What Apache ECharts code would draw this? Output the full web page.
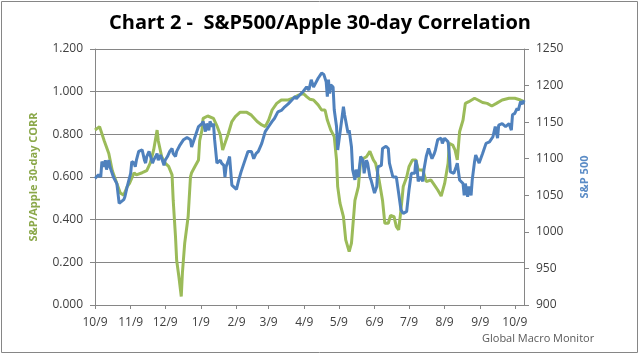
<!DOCTYPE html>
<html>
<head>
<meta charset="utf-8">
<script src="https://cdn.jsdelivr.net/npm/echarts@6/dist/echarts.min.js"></script>
<style>
html,body{margin:0;padding:0;background:#fff;}
#c{width:640px;height:355px;}
</style>
</head>
<body>
<div id="c"></div>
<script>
// ---- data ----
const startDate = '2009-10-09';
const lastDay = 373; // day offset of right edge of plot
const tickDates = ['2009-10-09','2009-11-09','2009-12-09','2010-01-09','2010-02-09','2010-03-09','2010-04-09','2010-05-09','2010-06-09','2010-07-09','2010-08-09','2010-09-09','2010-10-09'];
const tickLabels = ['10/9','11/9','12/9','1/9','2/9','3/9','4/9','5/9','6/9','7/9','8/9','9/9','10/9'];
const leftTicks = [0, 0.2, 0.4, 0.6, 0.8, 1.0, 1.2];
const rightTicks = [900, 950, 1000, 1050, 1100, 1150, 1200, 1250];

// S&P/Apple 30-day correlation (day offsets from start, values)
const corrDays = [0,4,8,12,15,19,22,25,28,30,34,36,41,45,48,51,54,55,58,61,64,67,68,70,71,73,75,76,78,81,83,84,87,90,91,93,94,98,103,106,109,111,113,116,119,122,126,132,136,141,145,148,151,154,158,162,168,172,177,181,184,187,190,194,197,200,202,205,208,210,211,213,216,218,221,223,226,229,231,236,239,242,244,247,250,252,255,257,260,262,264,266,268,271,273,276,279,281,285,288,292,295,298,301,304,307,308,311,313,315,317,320,322,325,330,333,337,341,345,349,354,360,365,370,373];
const corrValues = [0.820,0.836,0.770,0.710,0.630,0.570,0.525,0.515,0.555,0.570,0.620,0.610,0.620,0.630,0.665,0.727,0.820,0.770,0.695,0.665,0.650,0.610,0.490,0.320,0.210,0.130,0.040,0.150,0.290,0.415,0.600,0.620,0.650,0.680,0.770,0.820,0.875,0.886,0.875,0.840,0.797,0.727,0.758,0.805,0.860,0.883,0.903,0.903,0.890,0.860,0.844,0.836,0.867,0.914,0.945,0.961,0.961,0.969,0.984,0.992,0.977,0.964,0.961,0.938,0.914,0.914,0.867,0.820,0.789,0.680,0.555,0.477,0.414,0.305,0.250,0.290,0.490,0.555,0.680,0.695,0.720,0.680,0.664,0.586,0.490,0.383,0.383,0.420,0.414,0.367,0.352,0.445,0.555,0.600,0.648,0.680,0.680,0.633,0.633,0.578,0.586,0.563,0.539,0.511,0.570,0.664,0.758,0.750,0.727,0.680,0.812,0.867,0.945,0.953,0.969,0.961,0.949,0.945,0.933,0.945,0.961,0.969,0.969,0.961,0.953];

// S&P 500 index level
const spxDays = [0,3,5,6,8,9,10,12,13,16,19,21,22,25,26,28,31,32,34,35,36,38,41,43,44,45,47,48,50,51,54,55,57,58,60,61,63,65,67,68,70,71,74,77,80,83,84,87,90,93,94,96,97,99,100,102,103,104,106,109,110,112,113,114,116,117,119,120,123,125,127,130,133,136,138,140,142,145,148,151,154,156,159,162,165,168,171,174,175,178,181,184,186,188,190,191,194,197,199,201,202,203,204,205,207,208,210,211,213,216,217,220,221,223,224,226,227,229,231,233,234,236,237,239,240,243,245,246,249,250,253,255,256,259,262,264,266,268,271,272,273,275,278,279,280,281,283,285,286,288,290,293,295,296,298,301,302,304,307,308,309,312,314,315,317,320,321,322,324,325,327,328,330,331,334,337,340,343,346,348,350,351,354,357,360,362,363,365,367,368,370,372,373];
const spxValues = [1073,1078,1075,1096,1089,1098,1085,1098,1089,1075,1066,1039,1037,1044,1048,1062,1080,1096,1094,1089,1098,1110,1112,1098,1094,1103,1110,1108,1094,1098,1107,1098,1105,1103,1091,1098,1103,1110,1114,1107,1103,1110,1119,1126,1129,1126,1116,1130,1144,1148,1151,1137,1148,1139,1151,1144,1148,1126,1094,1098,1094,1091,1075,1089,1098,1103,1064,1062,1058,1071,1082,1096,1110,1110,1100,1107,1110,1121,1137,1144,1151,1155,1164,1166,1171,1175,1180,1185,1182,1187,1192,1198,1194,1208,1198,1201,1210,1217,1215,1205,1185,1208,1189,1201,1198,1167,1144,1112,1135,1171,1160,1135,1139,1116,1085,1071,1085,1075,1103,1098,1080,1098,1094,1075,1071,1053,1062,1089,1091,1114,1117,1114,1094,1075,1075,1053,1030,1025,1028,1030,1057,1080,1080,1098,1089,1069,1075,1069,1085,1103,1114,1100,1107,1112,1126,1128,1121,1128,1123,1107,1082,1080,1089,1094,1071,1066,1050,1066,1048,1062,1050,1071,1096,1105,1094,1107,1121,1123,1130,1144,1128,1146,1148,1144,1148,1139,1160,1162,1169,1166,1178,1175,1180];

// ---- build ----
const DAY = 86400000;
const t0 = Date.parse(startDate + 'T00:00:00Z');
const toTs = s => Date.parse(s + 'T00:00:00Z');
const tickTs = tickDates.map(toTs);
const corrData = corrDays.map((d, i) => [t0 + d * DAY, corrValues[i]]);
const spxData = spxDays.map((d, i) => [t0 + d * DAY, spxValues[i]]);

const FONT = '"Open Sans", "Noto Sans", sans-serif';
const axisGray = '#868686';
const textGray = '#404040';

const chart = echarts.init(document.getElementById('c'), null, {renderer: 'canvas'});
chart.setOption({
  animation: false,
  backgroundColor: '#ffffff',
  title: {
    text: 'Chart 2 -  S&P500/Apple 30-day Correlation',
    left: 'center',
    top: 8,
    textStyle: {fontFamily: FONT, fontWeight: 'bold', fontSize: 20, color: '#000000'}
  },
  grid: {left: 95, right: 116, top: 49, bottom: 50, containLabel: false, outerBoundsMode: 'none'},
  xAxis: {
    type: 'value',
    min: t0,
    max: t0 + lastDay * DAY,
    splitLine: {show: false},
    axisLine: {show: true, onZero: false, lineStyle: {color: axisGray, width: 1}},
    axisTick: {show: true, length: 4, customValues: tickTs, lineStyle: {color: axisGray}},
    axisLabel: {
      customValues: tickTs,
      margin: 12,
      fontFamily: FONT, fontSize: 12, color: textGray,
      formatter: v => { const i = tickTs.indexOf(v); return i >= 0 ? tickLabels[i] : ''; }
    }
  },
  yAxis: [
    {
      type: 'value', min: leftTicks[0], max: leftTicks[leftTicks.length - 1], interval: 0.2,
      position: 'left',
      name: 'S&P/Apple 30-day CORR',
      nameLocation: 'middle', nameGap: 56, nameRotate: 90,
      nameTextStyle: {fontFamily: FONT, fontWeight: 'bold', fontSize: 11, color: '#8BA84A'},
      axisLine: {show: true, lineStyle: {color: axisGray}},
      axisTick: {show: true, length: 5, lineStyle: {color: axisGray}},
      axisLabel: {margin: 12, fontFamily: FONT, fontSize: 12, color: textGray, formatter: v => v.toFixed(3)},
      splitLine: {show: true, lineStyle: {color: axisGray, width: 1}}
    },
    {
      type: 'value', min: rightTicks[0], max: rightTicks[rightTicks.length - 1], interval: 50,
      position: 'right',
      name: 'S&P 500',
      nameLocation: 'middle', nameGap: 55, nameRotate: 90,
      nameTextStyle: {fontFamily: FONT, fontWeight: 'bold', fontSize: 11, color: '#5B8CC6'},
      axisLine: {show: true, lineStyle: {color: axisGray}},
      axisTick: {show: true, length: 5, lineStyle: {color: axisGray}},
      axisLabel: {margin: 12, fontFamily: FONT, fontSize: 12, color: textGray, formatter: v => String(Math.round(v))},
      splitLine: {show: false}
    }
  ],
  series: [
    {
      name: 'S&P/Apple 30-day CORR', type: 'line', yAxisIndex: 0,
      data: corrData, showSymbol: false, symbol: 'none',
      lineStyle: {color: '#9BBB59', width: 3}, z: 2
    },
    {
      name: 'S&P 500', type: 'line', yAxisIndex: 1,
      data: spxData, showSymbol: false, symbol: 'none',
      lineStyle: {color: '#4F81BD', width: 3}, z: 3
    }
  ],
  graphic: [
    {type: 'rect', shape: {x: 1.5, y: 1.5, width: 636, height: 351}, style: {fill: null, stroke: '#868686', lineWidth: 1}, silent: true},
    {type: 'text', left: 482, top: 333, style: {text: 'Global Macro Monitor', font: '11px ' + FONT, fill: '#595959'}}
  ]
});
</script>
</body>
</html>
